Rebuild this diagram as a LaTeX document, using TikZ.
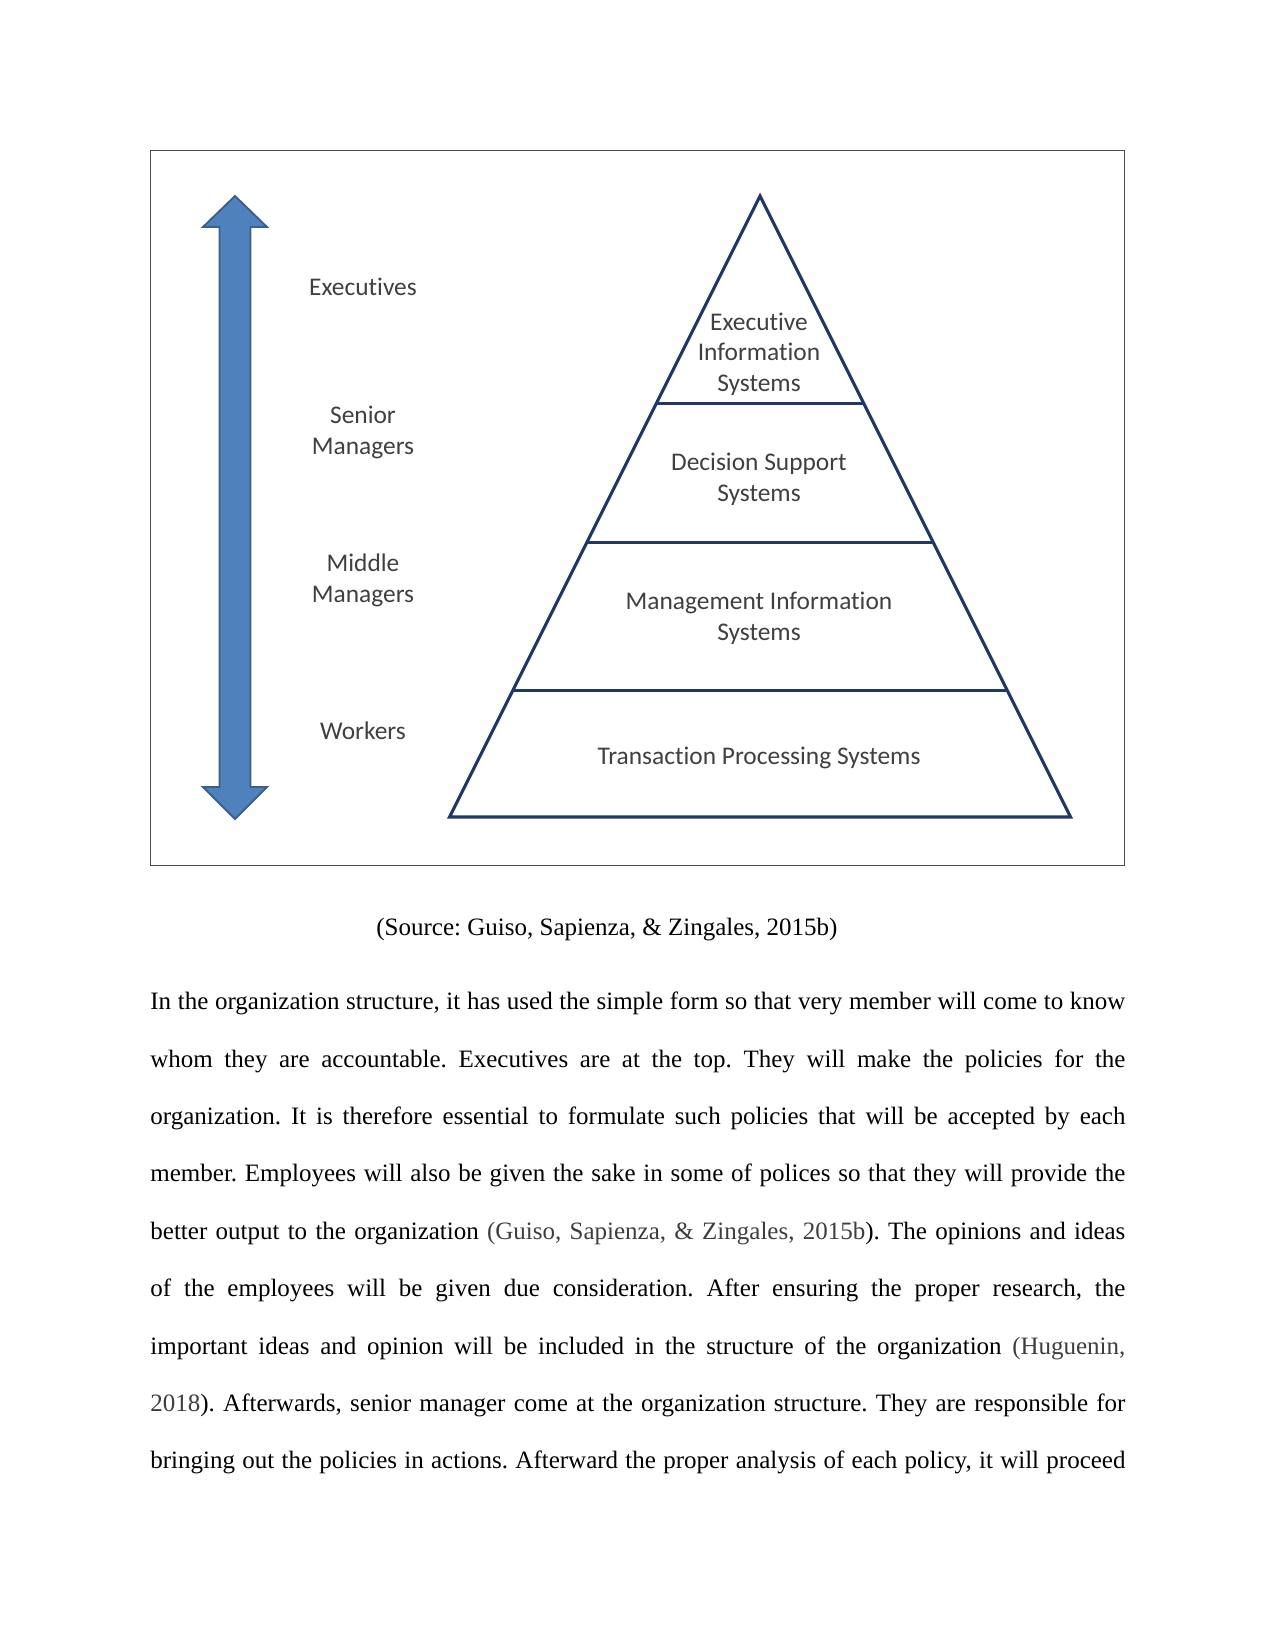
\documentclass[tikz,border=0pt]{standalone}
\usepackage{fontspec}
\setmainfont{Liberation Serif}
\newfontfamily\calib[Ligatures=NoCommon]{Carlito}
\usetikzlibrary{calc}
\definecolor{pyr}{RGB}{31,56,100}
\definecolor{arrfill}{RGB}{79,129,189}
\definecolor{arrline}{RGB}{58,95,140}
\definecolor{lblc}{RGB}{64,64,64}
\definecolor{citec}{RGB}{62,62,62}
\frenchspacing
\begin{document}
\begin{tikzpicture}[x=0.48pt,y=-0.48pt,
  lbl/.style={font=\calib\fontsize{12.2}{14.6}\selectfont, text=lblc, align=center, inner sep=0pt},
  bodyline/.style={font=\fontsize{12}{14}\selectfont, anchor=base west, inner sep=0pt},
  pyrline/.style={draw=pyr, line width=1.5pt, line join=miter},
  frame/.style={draw=black!70, line width=0.8pt}]
\useasboundingbox (0,0) rectangle (1275,1651);
\fill[white] (0,0) rectangle (1275,1651);
% frame
\draw[frame] (150.5,150.5) rectangle (1124.5,865.5);
% double arrow
\draw[fill=arrfill, draw=arrline, line width=0.9pt, line join=miter]
  (235,196) -- (267,227) -- (250.5,227) -- (250.5,787) -- (267,787) -- (235,819)
  -- (203,787) -- (219.5,787) -- (219.5,227) -- (203,227) -- cycle;
% pyramid
\coordinate (apex) at (760,196);
\coordinate (bl) at (449.5,817);
\coordinate (br) at (1070.5,817);
\draw[pyrline] (apex) -- (bl) -- (br) -- cycle;
\foreach \t/\n in {0.3337/a,0.5575/b,0.7965/c}{
  \coordinate (l\n) at ($(apex)!\t!(bl)$);
  \coordinate (r\n) at ($(apex)!\t!(br)$);
  \draw[pyrline] (l\n) -- (r\n);
}
% left labels
\node[lbl] (exe) at (363,286.5) {Executives};
\node[lbl] (sen) at (363,432.5) {Senior\\Managers};
\node[lbl] (mid) at (363,580.5) {Middle\\Managers};
\node[lbl] (wor) at (363,731) {Workers};
% pyramid labels
\node[lbl] (eis) at (759,354) {Executive\\Information\\Systems};
\node[lbl] (dss) at (759,479.5) {Decision Support\\Systems};
\node[lbl] (mis) at (759,618.5) {Management Information\\Systems};
\node[lbl] (tps) at (759,758) {Transaction Processing Systems};
% caption
\node[bodyline] (cap) at (376,935) {(Source: Guiso, Sapienza, \& Zingales, 2015b)};
% body text
\node[bodyline] (l1) at (150,1009.7) {\makebox[468pt][s]{In the organization structure, it has used the simple form so that very member will come to know}};
\node[bodyline] (l2) at (150,1067.1) {\makebox[468pt][s]{whom they are accountable. Executives are at the top. They will make the policies for the}};
\node[bodyline] (l3) at (150,1124.5) {\makebox[468pt][s]{organization. It is therefore essential to formulate such policies that will be accepted by each}};
\node[bodyline] (l4) at (150,1181.9) {\makebox[468pt][s]{member. Employees will also be given the sake in some of polices so that they will provide the}};
\node[bodyline] (l5) at (150,1239.3) {\makebox[468pt][s]{better output to the organization {\color{citec}(Guiso, Sapienza, \& Zingales, 2015b}). The opinions and ideas}};
\node[bodyline] (l6) at (150,1296.7) {\makebox[468pt][s]{of the employees will be given due consideration. After ensuring the proper research, the}};
\node[bodyline] (l7) at (150,1354.1) {\makebox[468pt][s]{important ideas and opinion will be included in the structure of the organization {\color{citec}(Huguenin,}}};
\node[bodyline] (l8) at (150,1411.5) {\makebox[468pt][s]{{\color{citec}2018}). Afterwards, senior manager come at the organization structure. They are responsible for}};
\node[bodyline] (l9) at (150,1468.9) {\makebox[468pt][s]{bringing out the policies in actions. Afterward the proper analysis of each policy, it will proceed}};
\end{tikzpicture}
\end{document}
